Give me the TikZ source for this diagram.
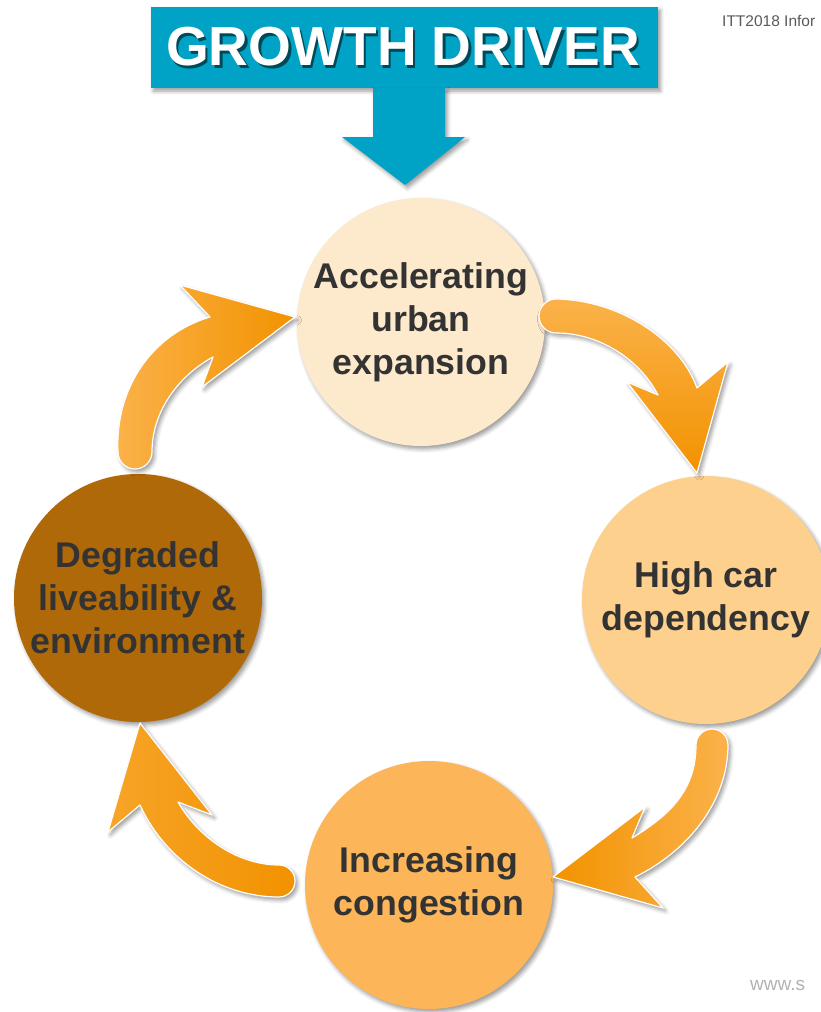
\documentclass[tikz,border=0pt]{standalone}
\usepackage{fontspec}
\setmainfont{Liberation Sans}
\usetikzlibrary{shadows.blur}

\definecolor{driverblue}{RGB}{0,162,197}
\definecolor{textgray}{HTML}{333333}
\definecolor{stageA}{HTML}{FDE9CB}
\definecolor{stageB}{HTML}{FDD08E}
\definecolor{stageC}{HTML}{FCB659}
\definecolor{stageD}{HTML}{B06908}
\definecolor{orangeL}{HTML}{FBB24A}
\definecolor{orangeM}{HTML}{F7A428}
\definecolor{orangeD}{HTML}{F29200}

% banner lettering with a dark drop shadow set behind it
\newcommand{\shadowed}[1]{%
  \makebox[0pt][l]{\hspace{2.5pt}\raisebox{-2.5pt}{\textcolor{driverblue!45!black}{#1}}}%
  \textcolor{white}{#1}}

\begin{document}
\begin{tikzpicture}[x=1pt,y=-1pt,
  softshadow/.style={blur shadow={shadow xshift=2.5pt, shadow yshift=-3pt,
      shadow blur radius=4pt, shadow opacity=40}},
  stage/.style={circle, minimum size=248pt, inner sep=0pt, align=center,
      font=\fontsize{35.7}{43}\selectfont\bfseries, text=textgray, softshadow},
  cyclearrow/.style={draw=white, line width=1.2pt, line join=round, softshadow},
  note/.style={font=\fontsize{15.5}{17}\selectfont, text=gray!70!black, inner sep=0pt, anchor=base west}
]
\useasboundingbox (0,0) rectangle (821,1012);

% header banner with its downward arrow
\node[fill=driverblue, minimum width=507pt, minimum height=81pt, inner sep=0pt, softshadow]
  (title) at (404.5,47.5) {};
\node[font=\fontsize{55}{60}\selectfont\bfseries, inner sep=0pt]
  (titletext) at (403,48) {\shadowed{GROWTH DRIVER}};
\fill[driverblue, softshadow]
  (373,88) -- (445,88) -- (445,137) -- (465,137) -- (405,185) -- (342,137) -- (373,137) -- cycle;

% the four stages of the cycle
\node[stage, fill=stageA] (expand) at (421,322) {Accelerating\\urban\\expansion};
\node[stage, fill=stageB] (cars)   at (706,600) {High car\\dependency};
\node[stage, fill=stageC] (jam)    at (429,885) {Increasing\\congestion};
\node[stage, fill=stageD] (decay)  at (138,598) {Degraded\\liveability \&\\environment};

% curved arrows between the stages
\path[cyclearrow, top color=orangeL, bottom color=orangeD]
  (556,299) .. controls (620,300) and (680,340) .. (697,388)
  -- (728,362) -- (697,473) -- (627,382) -- (658,395)
  .. controls (640,360) and (600,333) .. (556,333)
  arc[start angle=90, end angle=270, radius=17] -- cycle;

\path[cyclearrow, left color=orangeD, right color=orangeL]
  (728,745) .. controls (728,800) and (690,850) .. (635,877)
  -- (663,908) -- (553,877) -- (645,807) -- (632,838)
  .. controls (670,815) and (696,790) .. (696,745)
  arc[start angle=180, end angle=360, radius=16] -- cycle;

\path[cyclearrow, left color=orangeM, right color=orangeD]
  (279,865) arc[start angle=-90, end angle=90, radius=16]
  .. controls (220,897) and (165,860) .. (140,805)
  -- (108,832) -- (140,723) -- (212,815) -- (178,802)
  .. controls (200,840) and (240,865) .. cycle;

\path[cyclearrow, left color=orangeL, right color=orangeD]
  (118,452) .. controls (115,390) and (150,335) .. (210,317)
  -- (180,285) -- (295,317) -- (202,387) -- (213,357)
  .. controls (180,375) and (152,410) .. (152,452)
  arc[start angle=0, end angle=180, radius=17] -- cycle;

% small credits at the edges
\node[note] (credit) at (722,26) {ITT2018 Infor};
\node[note, text=gray!60, font=\fontsize{19}{21}\selectfont] (site) at (750,990) {www.s};
\end{tikzpicture}
\end{document}
